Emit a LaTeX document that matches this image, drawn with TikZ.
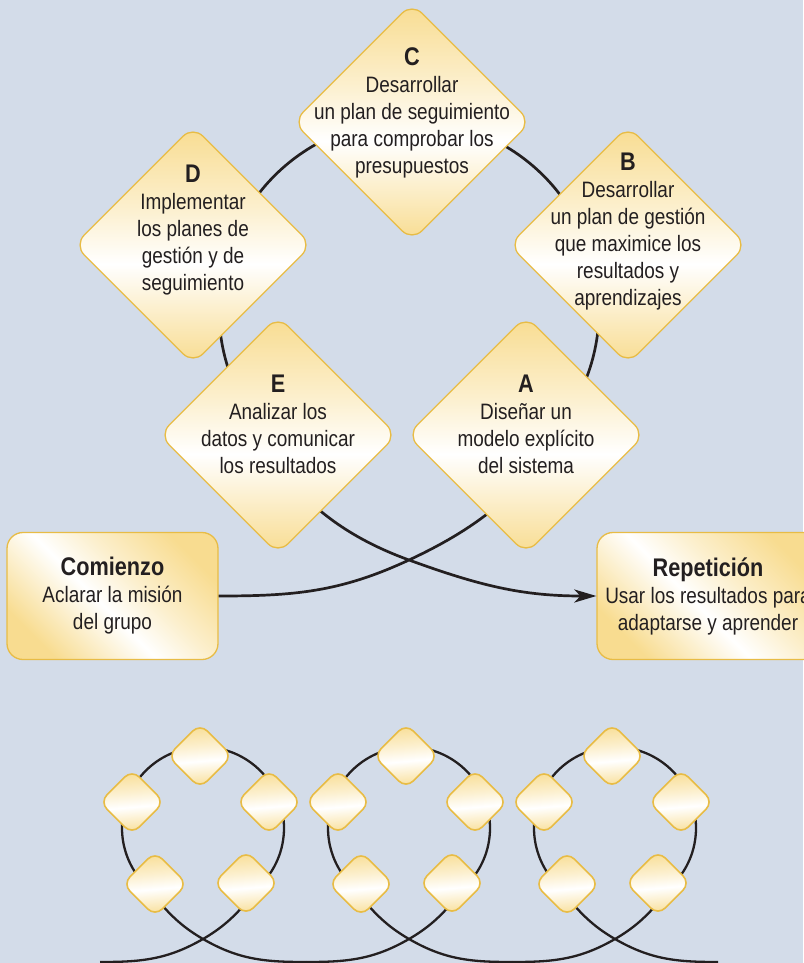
\documentclass[tikz,border=0pt]{standalone}
\usepackage{fontspec}
\setmainfont{Liberation Sans}[FakeStretch=0.85]
\usetikzlibrary{arrows.meta, positioning, shapes.geometric}

\definecolor{paper}{HTML}{D3DCE9}
\definecolor{cardgold}{HTML}{F8DC90}
\definecolor{cardedge}{HTML}{E8BC45}
\definecolor{ink}{HTML}{231F20}

\pgfdeclareverticalshading{goldband}{100bp}{color(0bp)=(cardgold); color(25bp)=(cardgold); color(46bp)=(white); color(58bp)=(cardgold!45!white); color(75bp)=(cardgold); color(100bp)=(cardgold)}

\newcommand{\stagehead}[1]{{\fontsize{25.5}{27}\selectfont\bfseries #1}}

\begin{document}
\begin{tikzpicture}[
  x=1pt, y=1pt,
  % Stages of the cycle - big rounded diamonds
  stagecard/.style={diamond, aspect=1, draw=cardedge, line width=1.3pt, rounded corners=14pt, minimum width=238pt, minimum height=238pt, inner sep=0pt, shade, shading=goldband},
  cardtext/.style={align=center, text=ink, font=\fontsize{22.3}{27}\selectfont, inner sep=0pt, anchor=north},
  % Start and repeat boxes
  stagebox/.style={rectangle, draw=cardedge, line width=1.3pt, rounded corners=16pt, minimum width=211pt, minimum height=127pt, shade, shading=goldband, shading angle=-45, align=center, text=ink, font=\fontsize{22.3}{27}\selectfont},
  % Small diamonds of the repeated cycles
  pebble/.style={diamond, aspect=1, draw=cardedge, line width=1.6pt, rounded corners=10pt, minimum width=65pt, minimum height=65pt, inner sep=0pt, shade, shading=goldband, shading angle=5},
  rope/.style={draw=ink, line width=2.7pt},
  thinrope/.style={draw=ink, line width=2.3pt}
]

\useasboundingbox (0,0) rectangle (803,-963);
\fill[paper] (0,0) rectangle (803,-963);

% === BOXES ===
\node[stagebox] (comienzo) at (112.5,-596) {\stagehead{Comienzo}\\Aclarar la misión\\del grupo};
\node[stagebox, minimum width=222pt] (repeticion) at (708,-596) {\stagehead{Repetición}\\Usar los resultados para\\adaptarse y aprender};

% === MAIN LOOP ===
\coordinate (hub) at (409,-310);
\coordinate (cross) at (409,-560);
\coordinate (joinA) at ([shift={(-25:190)}]hub);
\draw[rope, -{Stealth[length=22pt, width=13pt, inset=6pt]}] (comienzo.east) to[out=0, in=-155] (cross)
  to[out=25, in=-115] (joinA) arc[start angle=-25, end angle=202, radius=190]
  to[out=-68, in=160] (cross) to[out=-20, in=180] (repeticion.west);

% === STAGES ===
\node[stagecard] (C) at (412,-122) {};
\node[stagecard] (B) at (628,-245) {};
\node[stagecard] (D) at (193,-245) {};
\node[stagecard] (A) at (526,-435) {};
\node[stagecard] (E) at (278,-435) {};

\node[cardtext] (C-text) at ([yshift=75pt]C.center) {\stagehead{C}\\Desarrollar\\un plan de seguimiento\\para comprobar los\\presupuestos};
\node[cardtext] (B-text) at ([yshift=92pt]B.center) {\stagehead{B}\\Desarrollar\\un plan de gestión\\que maximice los\\resultados y\\aprendizajes};
\node[cardtext] (D-text) at ([yshift=80pt]D.center) {\stagehead{D}\\Implementar\\los planes de\\gestión y de\\seguimiento};
\node[cardtext] (A-text) at ([yshift=60pt]A.center) {\stagehead{A}\\Diseñar un\\modelo explícito\\del sistema};
\node[cardtext] (E-text) at ([yshift=60pt]E.center) {\stagehead{E}\\Analizar los\\datos y comunicar\\los resultados};

% === REPEATED CYCLES ===
\foreach \cx [count=\i] in {203,409,615} {
  \coordinate (hub\i) at (\cx,-828);
  \coordinate (link\i) at (\cx-103,-962);
  \coordinate (knot\i) at (\cx,-939);
  \coordinate (tail\i) at (\cx+103,-962);
  \draw[thinrope] (link\i) to[out=0, in=-150] (knot\i)
    to[out=30, in=-130] ([shift={(-40:81)}]hub\i) arc[start angle=-40, end angle=220, radius=81]
    to[out=-50, in=150] (knot\i) to[out=-30, in=180] (tail\i);
  \foreach \dx/\dy [count=\j] in {-3/72, -71/26, 66/26, -48/-56, 43/-55}
    \node[pebble] (s\i-\j) at ([shift={(\dx,\dy)}]hub\i) {};
}

\end{tikzpicture}
\end{document}
